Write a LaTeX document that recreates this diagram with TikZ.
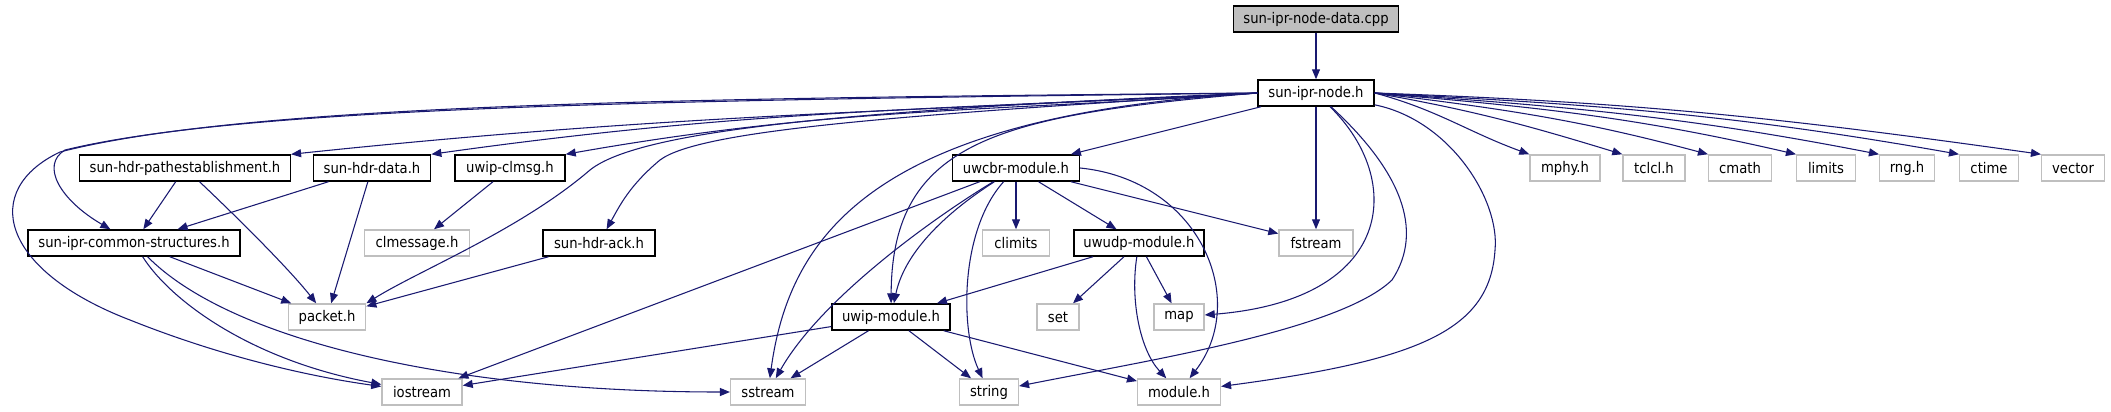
\documentclass[tikz,border=0pt]{standalone}
\usepackage{fontspec}
\setmainfont{DejaVu Sans Condensed}
\definecolor{edgeblue}{HTML}{191970}
\definecolor{extgray}{HTML}{BFBFBF}
\usetikzlibrary{arrows.meta}
\begin{document}
\begin{tikzpicture}[
  x=0.75pt, y=-0.75pt,
  font=\fontsize{11}{13}\selectfont,
  doc/.style={draw=black, line width=1.1pt, fill=white, minimum height=19.5pt, inner sep=0pt},
  ext/.style={draw=extgray, line width=1.1pt, fill=white, minimum height=19.5pt, inner sep=0pt},
  root/.style={doc, fill=extgray},
  arr/.style={-{Triangle[length=7.5pt,width=6pt]}, line width=0.8pt, color=edgeblue},
]
  \useasboundingbox (0,0) rectangle (2111,411);
  % top
  \node[root, minimum width=124pt] (cpp)  at (1316,19) {sun-ipr-node-data.cpp};
  \node[doc, minimum width=87pt]   (node) at (1316,93) {sun-ipr-node.h};
  % second rank
  \node[doc, minimum width=158pt] (path)  at (185,168)  {sun-hdr-pathestablishment.h};
  \node[doc, minimum width=88pt]  (hdata) at (372,168)  {sun-hdr-data.h};
  \node[doc, minimum width=82.5pt] (clmsg) at (510,168) {uwip-clmsg.h};
  \node[doc, minimum width=95pt]  (uwcbr) at (1016,168) {uwcbr-module.h};
  \node[ext, minimum width=52.5pt] (mphy) at (1565,168) {mphy.h};
  \node[ext, minimum width=46.5pt] (tclcl) at (1654,168) {tclcl.h};
  \node[ext, minimum width=47pt]  (cmath) at (1740,168) {cmath};
  \node[ext, minimum width=44pt]  (limits) at (1826,168) {limits};
  \node[ext, minimum width=41pt]  (rng) at (1907,168) {rng.h};
  \node[ext, minimum width=44pt]  (ctime) at (1989,168) {ctime};
  \node[ext, minimum width=47pt]  (vector) at (2073,168) {vector};
  % third rank
  \node[doc, minimum width=159pt] (common) at (134,243) {sun-ipr-common-structures.h};
  \node[ext, minimum width=79pt]  (clmessage) at (417,243) {clmessage.h};
  \node[doc, minimum width=84pt]  (ack) at (599,243) {sun-hdr-ack.h};
  \node[ext, minimum width=50pt]  (climits) at (1016,243) {climits};
  \node[doc, minimum width=97.5pt] (uwudp) at (1139,243) {uwudp-module.h};
  \node[ext, minimum width=55.5pt] (fstream) at (1316,243) {fstream};
  % fourth rank
  \node[ext, minimum width=58pt]  (packet) at (327,317) {packet.h};
  \node[doc, minimum width=88.5pt] (uwip) at (891,317) {uwip-module.h};
  \node[ext, minimum width=31.5pt] (set) at (1058,317) {set};
  \node[ext, minimum width=37.5pt] (map) at (1179,317) {map};
  % bottom
  \node[ext, minimum width=60pt]  (iostream) at (422,392) {iostream};
  \node[ext, minimum width=56pt]  (sstream) at (768,392) {sstream};
  \node[ext, minimum width=44pt]  (string) at (989,392) {string};
  \node[ext, minimum width=62pt]  (module) at (1179,392) {module.h};

  \draw[arr] (cpp) -- (node);
  % sun-ipr-node.h, left side
  \draw[arr] (node.west) to[out=183,in=6] (path.north east);
  \draw[arr] (node.west) to[out=183,in=8] (hdata.north east);
  \draw[arr] (node.west) to[out=184,in=10] (clmsg.north east);
  \draw[arr] (node.west) .. controls (700,100) and (250,105) .. (65,150)
    .. controls (40,165) and (60,200) .. (common);
  \draw[arr] (node.west) .. controls (700,98) and (250,103) .. (60,152)
    .. controls (-20,190) and (0,270) .. (130,320)
    .. controls (230,360) and (320,378) .. (iostream);
  \draw[arr] (node.west) .. controls (850,110) and (640,130) .. (590,170)
    .. controls (520,230) and (420,270) .. (packet.north east);
  \draw[arr] (node.west) .. controls (900,115) and (700,130) .. (660,160)
    .. controls (630,185) and (620,205) .. (ack);
  \draw[arr] (node.west) .. controls (1000,115) and (892,140) .. (uwip);
  \draw[arr] (node.west) .. controls (880,115) and (790,230) .. (sstream);
  \draw[arr] (node) -- (uwcbr);
  % sun-ipr-node.h, down and right
  \draw[arr] (node) -- (fstream);
  \draw[arr] (node) .. controls (1405,180) and (1395,300) .. (map);
  \draw[arr] (node) .. controls (1400,170) and (1425,230) .. (1392,280)
    .. controls (1340,330) and (1150,360) .. (string);
  \draw[arr] (node) .. controls (1450,120) and (1500,200) .. (1495,250)
    .. controls (1490,330) and (1420,360) .. (module);
  \draw[arr] (node.east) to[out=-15,in=160] (mphy.north west);
  \draw[arr] (node.east) to[out=-10,in=163] (tclcl.north west);
  \draw[arr] (node.east) to[out=-7,in=165] (cmath.north west);
  \draw[arr] (node.east) to[out=-5,in=167] (limits.north west);
  \draw[arr] (node.east) to[out=-4,in=169] (rng.north west);
  \draw[arr] (node.east) to[out=-3,in=170] (ctime.north west);
  \draw[arr] (node.east) to[out=-2,in=172] (vector.north west);
  % headers
  \draw[arr] (path) -- (common);
  \draw[arr] (path) .. controls (240,220) and (290,270) .. (packet);
  \draw[arr] (hdata) -- (common);
  \draw[arr] (hdata) -- (packet);
  \draw[arr] (clmsg) -- (clmessage);
  \draw[arr] (ack) -- (packet);
  \draw[arr] (common) -- (packet);
  \draw[arr] (common) .. controls (170,300) and (250,360) .. (iostream);
  \draw[arr] (common) .. controls (230,340) and (450,392) .. (sstream);
  % uwcbr-module.h
  \draw[arr] (uwcbr) -- (iostream);
  \draw[arr] (uwcbr) .. controls (930,220) and (820,300) .. (sstream);
  \draw[arr] (uwcbr) .. controls (950,210) and (905,250) .. (uwip);
  \draw[arr] (uwcbr) .. controls (960,230) and (960,330) .. (string);
  \draw[arr] (uwcbr) -- (climits);
  \draw[arr] (uwcbr) -- (uwudp);
  \draw[arr] (uwcbr) -- (fstream);
  \draw[arr] (uwcbr.east) .. controls (1200,180) and (1250,300) .. (module);
  % uwudp-module.h
  \draw[arr] (uwudp) -- (uwip);
  \draw[arr] (uwudp) -- (set);
  \draw[arr] (uwudp) -- (map);
  \draw[arr] (uwudp) .. controls (1130,300) and (1140,350) .. (module);
  % uwip-module.h
  \draw[arr] (uwip) -- (iostream);
  \draw[arr] (uwip) -- (sstream);
  \draw[arr] (uwip) -- (string);
  \draw[arr] (uwip) -- (module);
\end{tikzpicture}
\end{document}
